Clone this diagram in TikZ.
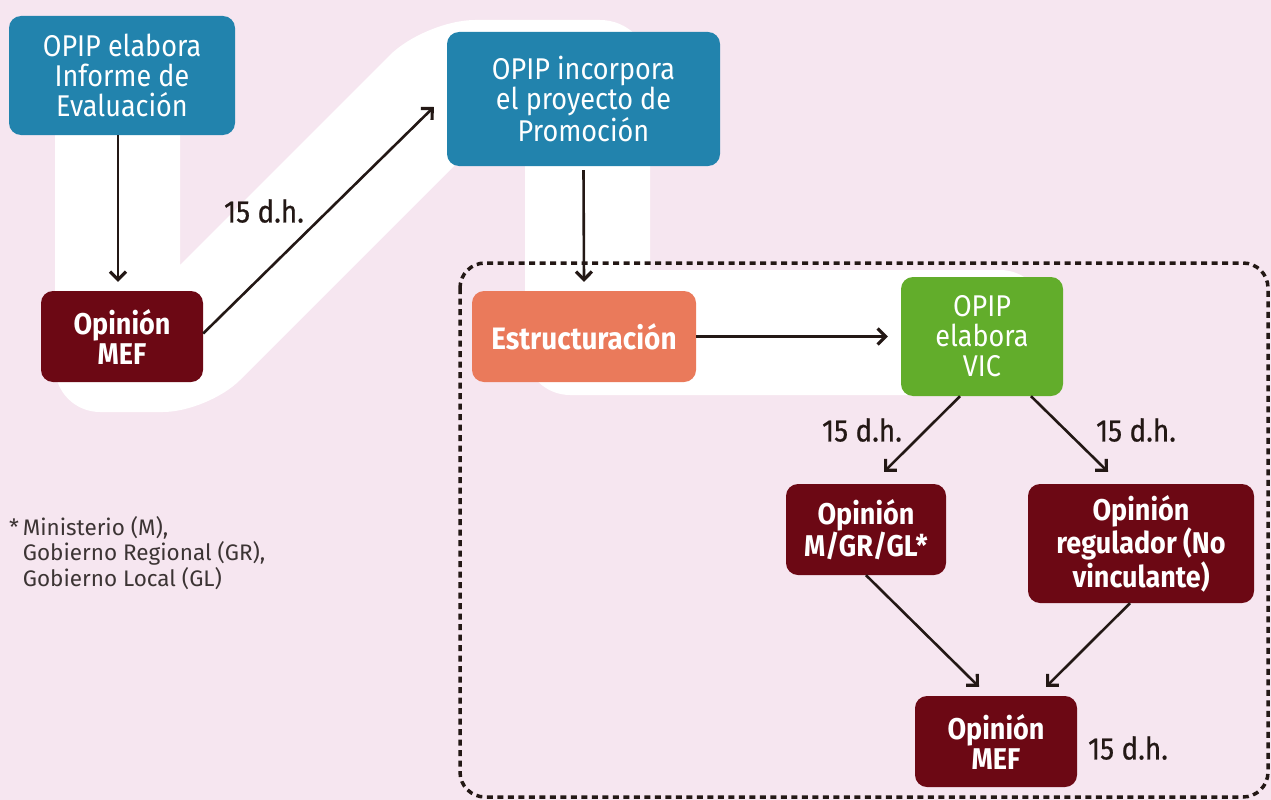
\documentclass[tikz,border=0pt]{standalone}
\usepackage{fontspec}
\setmainfont{Fira Sans}[FakeStretch=0.9]
\newfontfamily\notefont{Fira Sans}
\newfontfamily\lblfont{Fira Sans}[FakeStretch=0.9, FakeBold=0.6]
\usetikzlibrary{arrows.meta}
\definecolor{bgpink}{HTML}{F6E6F0}
\definecolor{boxblue}{HTML}{2283AD}
\definecolor{boxred}{HTML}{6C0814}
\definecolor{boxsalmon}{HTML}{EA7A5B}
\definecolor{boxgreen}{HTML}{62AD2B}
\definecolor{ink}{HTML}{231815}
\definecolor{noteink}{HTML}{3C3434}
\tikzset{
  box/.style={rounded corners=12pt, text=white, align=center, inner sep=0pt,
    font=\fontsize{30}{30}\selectfont},
  bluebox/.style={box, fill=boxblue},
  redbox/.style={box, fill=boxred, font=\fontsize{30}{30}\selectfont\bfseries},
  salmonbox/.style={box, fill=boxsalmon, font=\fontsize{31}{30}\selectfont\bfseries},
  greenbox/.style={box, fill=boxgreen},
  conn/.style={draw=ink, line width=2.6pt, -{Straight Barb[length=8pt,width=16pt,line width=3.2pt]}},
  lbl/.style={text=ink, inner sep=0pt, font=\lblfont\fontsize{31}{30}\selectfont},
  band/.style={fill=white},
  framebox/.style={draw=ink, line width=3.5pt, dash pattern=on 6pt off 4.5pt, rounded corners=25pt},
}
\begin{document}
\begin{tikzpicture}[x=1pt, y=-1pt]
\useasboundingbox (0,0) rectangle (1271,800);
\fill[bgpink] (0,0) rectangle (1271,800);
% white band
\fill[band] (55,100) [rounded corners=45pt] -- (55,412) -- (208,412) -- (525,95)
  -- (525,395) -- (1045,395) -- (1045,270) [sharp corners] -- (650,270) [rounded corners=50pt] -- (650,20)
  -- (425,20) [sharp corners] -- (180,265) -- (180,100) -- cycle;
% dotted frame
\draw[framebox] (460,263) rectangle (1268,797);
% nodes
\node[bluebox, minimum width=226pt, minimum height=119pt] (b1) at (122,75.5) {OPIP elabora\\Informe de\\Evaluación};
\node[bluebox, minimum width=273pt, minimum height=134pt] (b2) at (583.5,99) {OPIP incorpora\\el proyecto de\\Promoción};
\node[redbox, minimum width=162pt, minimum height=91pt] (mef1) at (122,336.5) {Opinión\\MEF};
\node[salmonbox, minimum width=224pt, minimum height=91pt] (estr) at (584,336.5) {Estructuración};
\node[greenbox, minimum width=162pt, minimum height=119pt] (vic) at (982,336.5) {OPIP\\elabora\\VIC};
\node[redbox, minimum width=160pt, minimum height=91pt] (mgr) at (866,529.5) {Opinión\\M/GR/GL*};
\node[redbox, minimum width=226pt, minimum height=119pt] (reg) at (1141,543.5) {Opinión\\regulador (No\\vinculante)};
\node[redbox, minimum width=162pt, minimum height=91pt] (mef2) at (996,741.5) {Opinión\\MEF};
% connectors
\draw[conn] ([xshift=-4pt]b1.south) -- ([xshift=-4pt,yshift=9pt]mef1.north);
\draw[conn] ([yshift=3pt]mef1.east) -- ([xshift=-13pt,yshift=-8pt]b2.west);
\draw[conn] ([yshift=-4pt]b2.south) -- ([yshift=9pt]estr.north);
\draw[conn] (estr.east) -- ([xshift=-13pt]vic.west);
\draw[conn] ([xshift=-22pt]vic.south) -- ([xshift=18pt,yshift=12pt]mgr.north);
\draw[conn] ([xshift=49pt]vic.south) -- ([xshift=-33pt,yshift=12pt]reg.north);
\draw[conn] (mgr.south) -- ([xshift=-17pt,yshift=9pt]mef2.north);
\draw[conn] ([xshift=-11pt]reg.south) -- ([xshift=50pt,yshift=9pt]mef2.north);
% labels
\node[lbl] (l1) at (264,211) {15 d.h.};
\node[lbl] (l2) at (862,430) {15 d.h.};
\node[lbl] (l3) at (1136,430) {15 d.h.};
\node[lbl] (l4) at (1128,748) {15 d.h.};
% footnote
\node[anchor=north west, inner sep=0pt, align=left, text=noteink,
  font=\notefont\fontsize{22.5}{25.5}\selectfont] (note) at (9,516)
  {*\,Ministerio (M),\\\hphantom{*\,}Gobierno Regional (GR),\\\hphantom{*\,}Gobierno Local (GL)};
\end{tikzpicture}
\end{document}
